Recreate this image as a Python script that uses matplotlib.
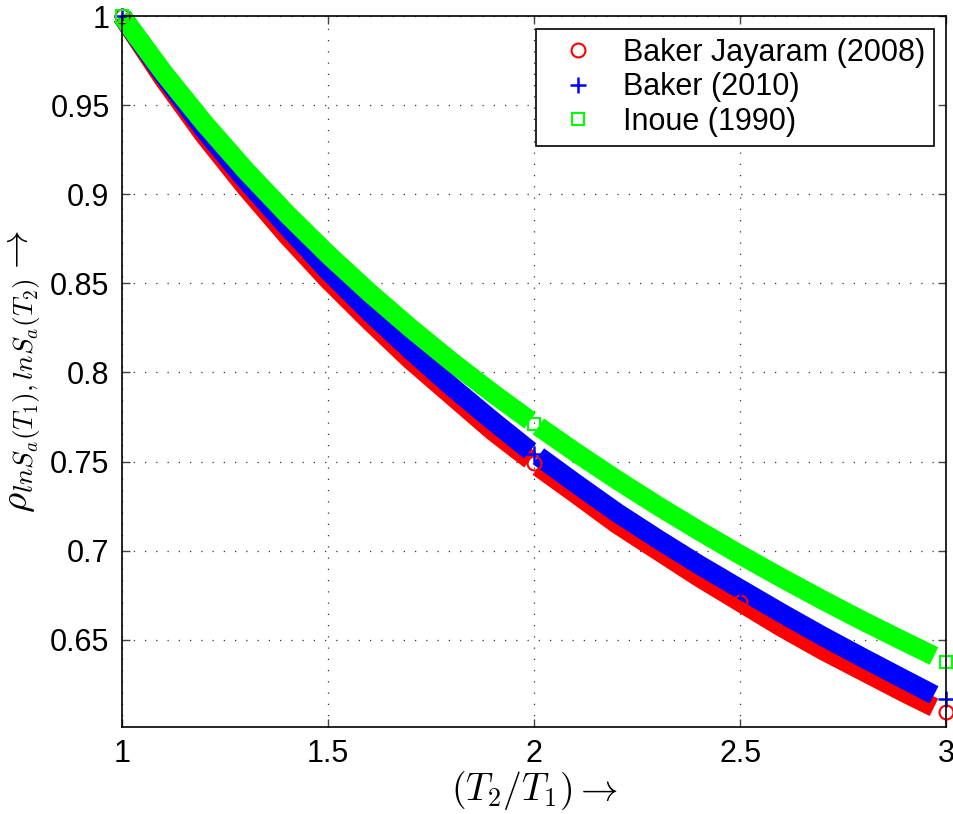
import matplotlib.pyplot as plt

# bands of points, x = T2/T1, y = correlation
x_lo = [1.0, 1.1, 1.2, 1.3, 1.4, 1.5, 1.6, 1.7, 1.8, 1.9, 1.99]
x_hi = [2.01, 2.1, 2.2, 2.3, 2.4, 2.5, 2.6, 2.7, 2.8, 2.9, 2.97]

bj08_lo = [1.0, 0.965, 0.933, 0.904, 0.877, 0.852, 0.829, 0.807, 0.787, 0.767, 0.751]
bj08_hi = [0.747, 0.732, 0.715, 0.700, 0.685, 0.671, 0.657, 0.644, 0.632, 0.620, 0.612]
b10_lo = [1.0, 0.967, 0.936, 0.908, 0.882, 0.857, 0.834, 0.8125, 0.792, 0.7727, 0.756]
b10_hi = [0.753, 0.7378, 0.7214, 0.7064, 0.692, 0.6784, 0.6649, 0.6519, 0.6395, 0.6274, 0.619]
in90_lo = [1.0, 0.9685, 0.9398, 0.9134, 0.889, 0.8662, 0.8449, 0.8249, 0.806, 0.7882, 0.773]
in90_hi = [0.7697, 0.7552, 0.7398, 0.7251, 0.7111, 0.6976, 0.6847, 0.6722, 0.6602, 0.6487, 0.6408]

# single points that stand out of the bands
x_pts = [1, 2, 2.5, 3]
bj08_pts = [1.0, 0.749, 0.671, 0.6095]
b10_pts = [1.0, 0.7545, 0.6787, 0.6169]
in90_pts = [1.0, 0.7713, 0.6983, 0.6375]

xticks = [1, 1.5, 2, 2.5, 3]
xticklabels = ['1', '1.5', '2', '2.5', '3']
yticks = [0.65, 0.7, 0.75, 0.8, 0.85, 0.9, 0.95, 1.0]
yticklabels = ['0.65', '0.7', '0.75', '0.8', '0.85', '0.9', '0.95', '1']

plt.rcParams['font.family'] = ['Liberation Sans', 'DejaVu Sans']
plt.rcParams['mathtext.fontset'] = 'cm'

fig = plt.figure(figsize=(9.54, 8.14), dpi=100)
ax = fig.add_axes([0.128, 0.107, 0.864, 0.873])

RED = '#ff0000'
BLUE = '#0000ff'
GREEN = '#00ff00'
band_lw = 14

for xs, ys, c in [(x_lo, bj08_lo, RED), (x_hi, bj08_hi, RED),
                  (x_lo, b10_lo, BLUE), (x_hi, b10_hi, BLUE),
                  (x_lo, in90_lo, GREEN), (x_hi, in90_hi, GREEN)]:
    ax.plot(xs, ys, '-', color=c, lw=band_lw, solid_capstyle='butt',
            solid_joinstyle='round', clip_on=False, zorder=2)

ax.plot(x_pts, bj08_pts, 'o', ls='none', color=RED, mfc='none', ms=10, mew=1.5,
        clip_on=False, zorder=4, label='Baker Jayaram (2008)')
ax.plot(x_pts, b10_pts, '+', ls='none', color=BLUE, ms=12, mew=1.8,
        clip_on=False, zorder=4, label='Baker (2010)')
ax.plot(x_pts, in90_pts, 's', ls='none', color=GREEN, mfc='none', ms=8, mew=1.5,
        clip_on=False, zorder=4, label='Inoue (1990)')

ax.set_xlim(1, 3)
ax.set_ylim(0.601, 1.0)
ax.set_xticks(xticks)
ax.set_xticklabels(xticklabels)
ax.set_yticks(yticks)
ax.set_yticklabels(yticklabels)
ax.tick_params(direction='in', length=6, width=1, top=True, right=True,
               labelsize=22, pad=9, color='#444444')

ax.grid(True, ls=(0, (1, 8)), lw=0.9, color='#333333')
ax.set_axisbelow(True)
for s in ax.spines.values():
    s.set_linewidth(1.2)
    s.set_zorder(5)

ax.set_xlabel(r'$(T_2/T_1) \rightarrow$', fontsize=27, labelpad=0)
ax.set_ylabel(r'$\rho_{lnS_a(T_1),lnS_a(T_2)} \rightarrow$', fontsize=28, labelpad=6)

leg = ax.legend(loc='upper right', fontsize=22, frameon=True, fancybox=False,
                framealpha=1, edgecolor='black', borderpad=0.3, labelspacing=0.15,
                handlelength=2.2, handletextpad=0.35, borderaxespad=0.4, numpoints=1)
leg.get_frame().set_linewidth(1.2)
leg.set_zorder(6)

fig.savefig('out.png', dpi=100)
